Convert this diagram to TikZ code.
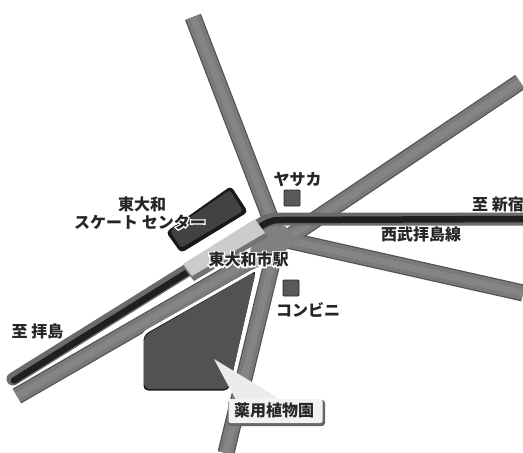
\documentclass[tikz,border=0pt]{standalone}
\usepackage{fontspec}
\newfontfamily\jp{Noto Sans CJK JP}
\newcommand{\halotext}[1]{\leavevmode\rlap{\special{pdf:code q 2 Tr 2.5 w 1 1 1 RG 1 1 1 rg}#1\special{pdf:code 0 Tr Q}}#1}
\tikzset{
  lbl/.style={font=\jp\bfseries\fontsize{16}{18}\selectfont, text=black!85, inner sep=0pt, align=center},
  roadshadow/.style={line width=17pt, draw=black!68, line cap=butt},
  roadface/.style={line width=14.5pt, draw=black!52, line cap=butt, yshift=0.8pt},
  roadlight/.style={line width=7pt, draw=black!48, line cap=butt, yshift=0.8pt},
  railbase/.style={line width=13pt, draw=black!58, line cap=round},
  railcore/.style={line width=6.5pt, draw=black!88, line cap=round},
  sq/.style={draw=black!85, line width=0.8pt, fill=black!65, minimum size=16pt, inner sep=0pt, rounded corners=1pt},
}
\begin{document}
\begin{tikzpicture}[x=1pt,y=-1pt]
\useasboundingbox (0,0) rectangle (523,453);
\fill[white] (0,0) rectangle (523,453);
% road ends
\coordinate (jc) at (278,238);
\coordinate (nroad) at (193,17);
\coordinate (neroad) at (520,82);
\coordinate (seroad) at (523,293);
\coordinate (sroad) at (226,453);
\coordinate (swroad) at (17,396);
\coordinate (swj) at (270,250);
% roads
\foreach \s in {roadshadow,roadface,roadlight}{
  \draw[\s] (nroad) -- (jc);
  \draw[\s] (neroad) -- (swj) -- (swroad);
  \draw[\s] (jc) -- (seroad);
  \draw[\s] (jc) -- (sroad);
}
\fill[black!50] (262,228) -- (285,226) -- (298,240) -- (272,262) -- (250,250) -- cycle;
% rail
\coordinate (rE) at (523,219);
\coordinate (rW) at (13,379);
\draw[railbase] (rE) -- (280,219) .. controls (268,219) and (264,222) .. (255,228) -- (rW);
\draw[railcore] (rE) -- (280,220) .. controls (270,220) and (266,223) .. (256,229.5) -- (14,380.5);
% building
\fill[black!90, rounded corners=4pt] (231,186) -- (248,212) -- (181,253) -- (166,232) -- cycle;
\fill[black!74, rounded corners=3pt] (230,190) -- (243,211) -- (181,248) -- (170,231) -- cycle;
% station
\fill[black!55] (255,222) -- (268,237) -- (194,281) -- (183,267) -- cycle;
\fill[black!20] (255,219) -- (265,233) -- (192,276) -- (183,264) -- cycle;
% park
\filldraw[draw=white, line width=3pt, fill=black!90, rounded corners=6pt] (142,334) -- (258,268) -- (230,392) -- (142,392) -- cycle;
\fill[black!68, rounded corners=6pt] (144,336) -- (256,271) -- (229,389) -- (144,389) -- cycle;
% shops
\node[sq] (yasakasq) at (292,198) {};
\node[sq] (convsq) at (291,288) {};
% callout
\fill[black!8] (214,359) -- (278,398) -- (236,400) -- cycle;
\fill[black!60, rounded corners=3pt] (228,400) rectangle (325,426);
\node[fill=black!5, rounded corners=2pt, minimum width=94pt, minimum height=24pt, inner sep=0pt] (herbbox) at (275.5,411) {};
% labels
\node[lbl] (yamatolb) at (142,204) {\halotext{東大和}};
\node[lbl] (skatelb) at (140,222) {\halotext{スケート センター}};
\node[lbl] (stationlb) at (248.5,259.5) {\halotext{東大和市駅}};
\node[lbl] (yasakalb) at (297.5,179) {ヤサカ};
\node[lbl] (convlb) at (308,310) {コンビニ};
\node[lbl] (haijimalb) at (37.5,331) {至 拝島};
\node[lbl] (shinjukulb) at (498,204.5) {至 新宿};
\node[lbl] (linelb) at (421,234.5) {西武拝島線};
\node[lbl] (herblb) at (274,410.5) {薬用植物園};
\end{tikzpicture}
\end{document}
